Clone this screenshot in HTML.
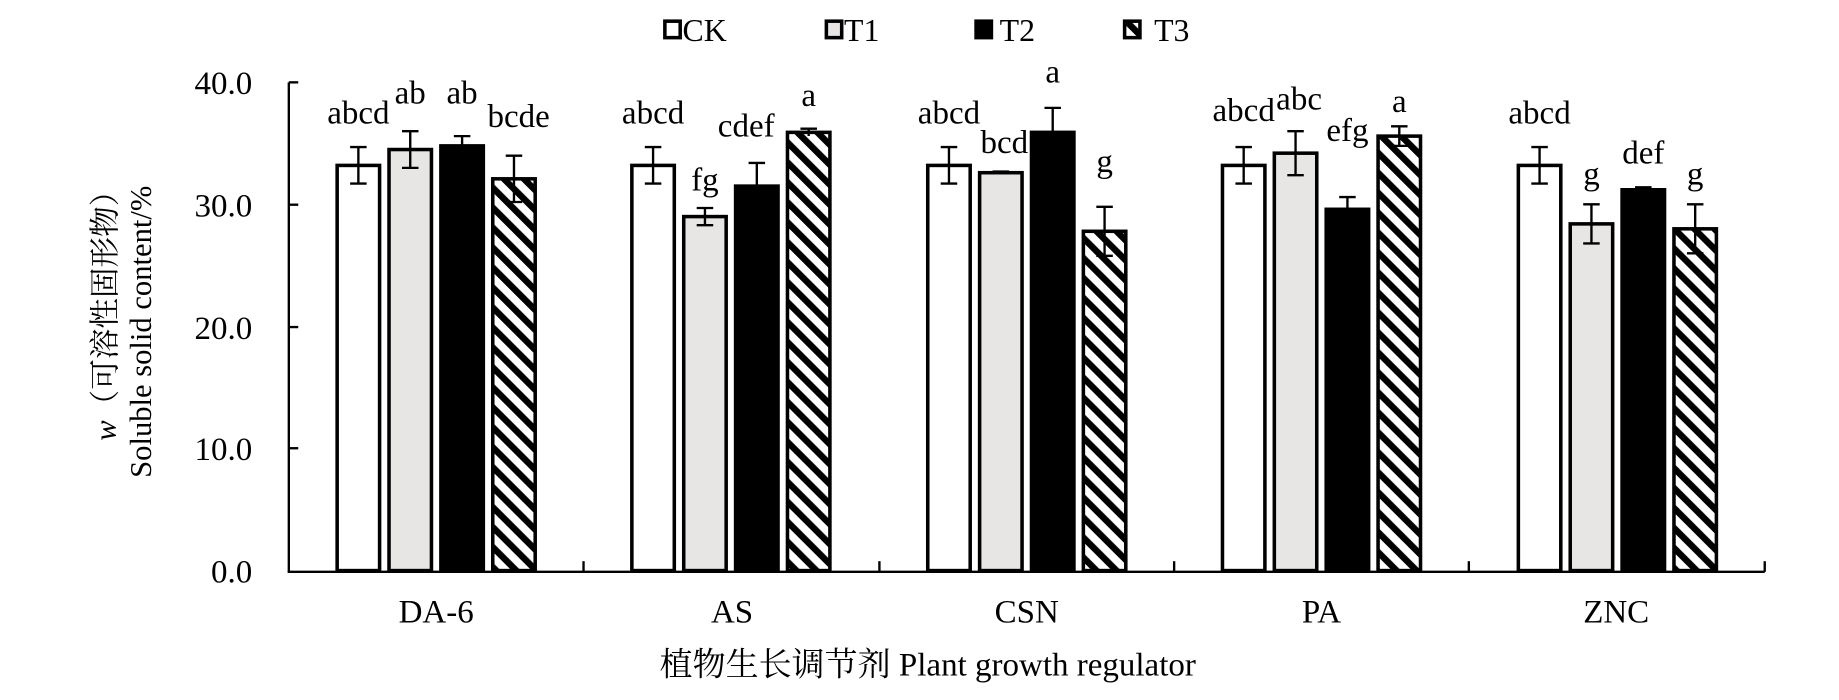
<!DOCTYPE html>
<html><head><meta charset="utf-8"><style>
html,body{margin:0;padding:0;background:#fff;}
svg{display:block;}
text{font-family:"Liberation Serif","Noto Serif CJK SC",serif;fill:#000;}
</style></head><body>
<svg width="1839" height="700" viewBox="0 0 1560 595" preserveAspectRatio="none" xmlns="http://www.w3.org/2000/svg">
<defs>
<pattern id="h" patternUnits="userSpaceOnUse" width="12" height="12" patternTransform="rotate(-45)">
<rect width="12" height="12" fill="#fff"/><rect x="0" y="0" width="5.5" height="12" fill="#000"/>
</pattern>
</defs>
<!-- legend -->
<g font-size="27">
<rect x="564" y="18" width="13" height="14" fill="#fff" stroke="#000" stroke-width="3"/><text x="579" y="35">CK</text>
<rect x="701" y="18" width="13" height="14" fill="#e8e6e4" stroke="#000" stroke-width="3"/><text x="716" y="35">T1</text>
<rect x="828" y="18" width="13" height="14" fill="#000" stroke="#000" stroke-width="3"/><text x="848" y="35">T2</text>
<rect x="954" y="18" width="13" height="14" fill="url(#h)" stroke="#000" stroke-width="3"/><text x="979" y="35">T3</text>
</g>
<!-- axes -->
<g stroke="#000" stroke-width="2" fill="none">
<line x1="245" y1="70" x2="245" y2="486"/>
<line x1="244" y1="486" x2="1497" y2="486"/>
<line x1="245" y1="70" x2="253" y2="70"/><line x1="245" y1="174" x2="253" y2="174"/><line x1="245" y1="278" x2="253" y2="278"/><line x1="245" y1="381" x2="253" y2="381"/>
<line x1="495" y1="486" x2="495" y2="477"/><line x1="746" y1="486" x2="746" y2="477"/><line x1="996" y1="486" x2="996" y2="477"/><line x1="1246" y1="486" x2="1246" y2="477"/><line x1="1497" y1="486" x2="1497" y2="477"/>
</g>
<g font-size="28" text-anchor="end">
<text x="214" y="80">40.0</text><text x="214" y="184">30.0</text><text x="214" y="288">20.0</text><text x="214" y="391">10.0</text><text x="214" y="495">0.0</text>
</g>
<g font-size="28" text-anchor="middle">
<text x="370" y="529">DA-6</text><text x="621" y="529">AS</text><text x="871" y="529">CSN</text><text x="1121" y="529">PA</text><text x="1371" y="529">ZNC</text>
<text x="787" y="574">植物生长调节剂 Plant growth regulator</text>
<text transform="translate(98,262) rotate(-90)" font-size="26"><tspan font-style="italic">w</tspan>（可溶性固形物）</text>
<text transform="translate(128,282) rotate(-90)" font-size="26">Soluble solid content/%</text>
</g>
<!-- bars -->
<g stroke="#000" stroke-width="3">
<rect x="286" y="140.6" width="36" height="344.4" fill="#fff"/>
<rect x="330" y="127.1" width="36" height="357.9" fill="#e8e6e4"/>
<rect x="374" y="124.0" width="36" height="361" fill="#000"/>
<rect x="418" y="152.0" width="36" height="333" fill="url(#h)"/>
<rect x="536" y="140.6" width="36" height="344.4" fill="#fff"/>
<rect x="580" y="184.1" width="36" height="300.9" fill="#e8e6e4"/>
<rect x="624" y="158.2" width="36" height="326.8" fill="#000"/>
<rect x="668" y="112.5" width="36" height="372.5" fill="url(#h)"/>
<rect x="787" y="140.6" width="36" height="344.4" fill="#fff"/>
<rect x="831" y="146.8" width="36" height="338.2" fill="#e8e6e4"/>
<rect x="875" y="112.5" width="36" height="372.5" fill="#000"/>
<rect x="919" y="196.6" width="36" height="288.4" fill="url(#h)"/>
<rect x="1037" y="140.6" width="36" height="344.4" fill="#fff"/>
<rect x="1081" y="130.2" width="36" height="354.8" fill="#e8e6e4"/>
<rect x="1125" y="177.9" width="36" height="307.1" fill="#000"/>
<rect x="1169" y="115.7" width="36" height="369.3" fill="url(#h)"/>
<rect x="1288" y="140.6" width="36" height="344.4" fill="#fff"/>
<rect x="1332" y="190.3" width="36" height="294.7" fill="#e8e6e4"/>
<rect x="1376" y="161.3" width="36" height="323.7" fill="#000"/>
<rect x="1420" y="194.5" width="36" height="290.5" fill="url(#h)"/>
</g>
<!-- error bars -->
<g stroke="#000" stroke-width="2" fill="none">
<path d="M304 125V156M297 125H311M297 156H311"/>
<path d="M348 111.5V142.7M341 111.5H355M341 142.7H355"/>
<path d="M392 115.7V132.3M385 115.7H399"/>
<path d="M436 132.3V171.7M429 132.3H443M429 171.7H443"/>
<path d="M554 125V156M547 125H561M547 156H561"/>
<path d="M598 176.8V191.4M591 176.8H605M591 191.4H605"/>
<path d="M642 138.5V158.2M635 138.5H649"/>
<path d="M686 109.4V115.6M679 109.4H693"/>
<path d="M805 125V156M798 125H812M798 156H812"/>
<path d="M849 145.8V147.8M842 145.8H856"/>
<path d="M893 91.7V112.5M886 91.7H900"/>
<path d="M937 175.8V217.4M930 175.8H944M930 217.4H944"/>
<path d="M1055 125V156M1048 125H1062M1048 156H1062"/>
<path d="M1099 111.5V148.9M1092 111.5H1106M1092 148.9H1106"/>
<path d="M1143 167.5V177.9M1136 167.5H1150"/>
<path d="M1187 107.4V124M1180 107.4H1194M1180 124H1194"/>
<path d="M1306 125V156M1299 125H1313M1299 156H1313"/>
<path d="M1350 173.7V206.9M1343 173.7H1357M1343 206.9H1357"/>
<path d="M1394 159.2V161.3M1387 159.2H1401"/>
<path d="M1438 173.7V215.3M1431 173.7H1445M1431 215.3H1445"/>
</g>
<!-- significance letters -->
<g font-size="28" text-anchor="middle">
<text x="304" y="105">abcd</text><text x="348" y="88">ab</text><text x="392" y="88">ab</text><text x="440" y="108">bcde</text>
<text x="554" y="105">abcd</text><text x="598" y="162">fg</text><text x="633" y="116">cdef</text><text x="686" y="90">a</text>
<text x="805" y="105">abcd</text><text x="852" y="130">bcd</text><text x="893" y="70">a</text><text x="937" y="146">g</text>
<text x="1055" y="103">abcd</text><text x="1102" y="93">abc</text><text x="1143" y="120">efg</text><text x="1187" y="95">a</text>
<text x="1306" y="105">abcd</text><text x="1350" y="157">g</text><text x="1394" y="139">def</text><text x="1438" y="157">g</text>
</g>
</svg>
</body></html>
